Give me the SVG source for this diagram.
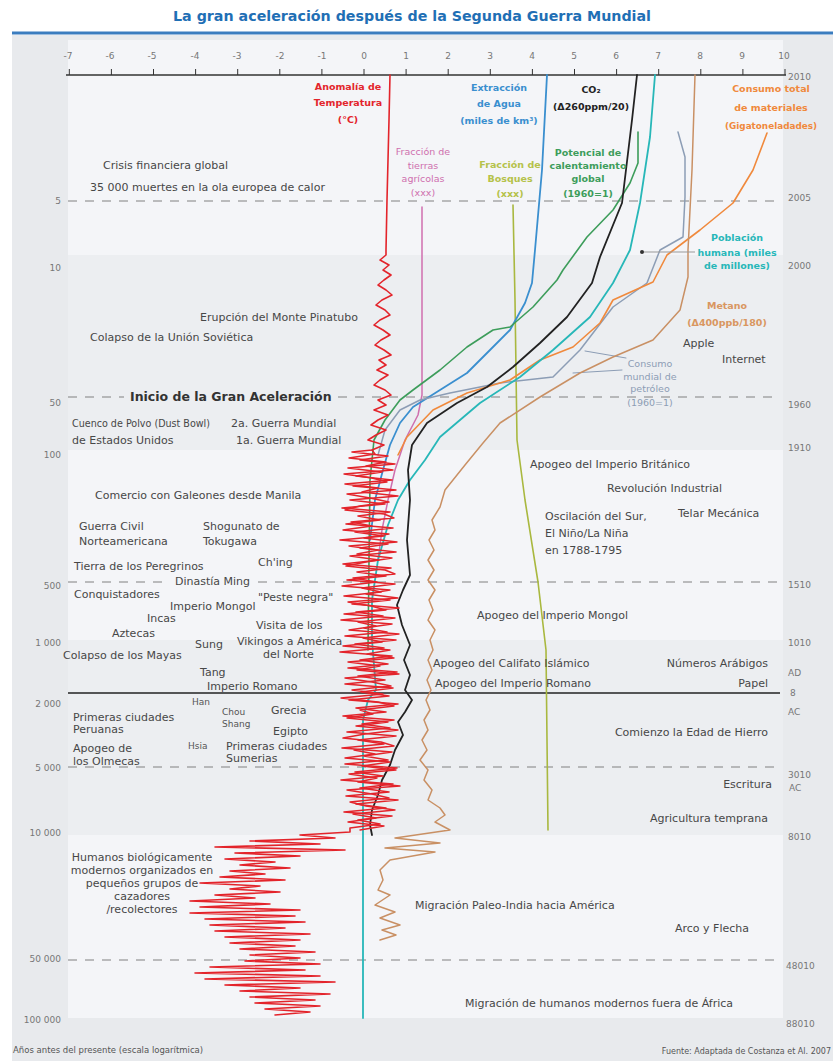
<svg xmlns="http://www.w3.org/2000/svg" width="833" height="1061" viewBox="0 0 833 1061">
<style>
.t{font-family:"DejaVu Sans","Liberation Sans",sans-serif;font-size:11px;fill:#474747}
.s{font-family:"DejaVu Sans","Liberation Sans",sans-serif;font-size:9px;fill:#555}
.ax{font-family:"DejaVu Sans","Liberation Sans",sans-serif;font-size:9px;fill:#777}
.sl{font-family:"DejaVu Sans","Liberation Sans",sans-serif;font-size:9.5px;font-weight:bold;text-anchor:middle}
.dash{stroke:#808080;stroke-width:1;stroke-dasharray:9 8;fill:none}
.c{fill:none;stroke-linejoin:round;stroke-linecap:round}
</style>
<rect width="833" height="1061" fill="#ffffff"/>
<g id="background">
<rect x="12" y="35" width="821" height="1026" fill="#e8eaed"/>
<rect x="68" y="40" width="715" height="215" fill="#f4f5f8"/>
<rect x="68" y="255" width="715" height="195" fill="#eceef1"/>
<rect x="68" y="450" width="715" height="190" fill="#f4f5f8"/>
<rect x="68" y="640" width="715" height="195" fill="#eceef1"/>
<rect x="68" y="835" width="715" height="183" fill="#f4f5f8"/>
<line x1="12" y1="33" x2="833" y2="33" stroke="#3b7dbf" stroke-width="3"/>
</g>
<text x="412" y="21" text-anchor="middle" font-family="DejaVu Sans, Liberation Sans, sans-serif" font-size="13.5" font-weight="bold" fill="#1f6fb5" textLength="478" lengthAdjust="spacingAndGlyphs">La gran aceleración después de la Segunda Guerra Mundial</text>
<g id="axes">
<line x1="66" y1="75" x2="786" y2="75" stroke="#333" stroke-width="1.3"/>
<g stroke="#333" stroke-width="1">
<line x1="69.3" y1="69" x2="69.3" y2="75"/><line x1="111.4" y1="69" x2="111.4" y2="75"/><line x1="153.5" y1="69" x2="153.5" y2="75"/><line x1="195.6" y1="69" x2="195.6" y2="75"/><line x1="237.7" y1="69" x2="237.7" y2="75"/><line x1="279.8" y1="69" x2="279.8" y2="75"/><line x1="321.9" y1="69" x2="321.9" y2="75"/><line x1="364" y1="69" x2="364" y2="75"/><line x1="406.1" y1="69" x2="406.1" y2="75"/><line x1="448.2" y1="69" x2="448.2" y2="75"/><line x1="490.3" y1="69" x2="490.3" y2="75"/><line x1="532.4" y1="69" x2="532.4" y2="75"/><line x1="574.5" y1="69" x2="574.5" y2="75"/><line x1="616.6" y1="69" x2="616.6" y2="75"/><line x1="658.7" y1="69" x2="658.7" y2="75"/><line x1="700.8" y1="69" x2="700.8" y2="75"/><line x1="742.9" y1="69" x2="742.9" y2="75"/><line x1="785" y1="69" x2="785" y2="75"/>
</g>
<g class="ax" text-anchor="middle">
<text x="68" y="59">-7</text><text x="110" y="59">-6</text><text x="152" y="59">-5</text><text x="195" y="59">-4</text><text x="237" y="59">-3</text><text x="280" y="59">-2</text><text x="322" y="59">-1</text><text x="364" y="59">0</text><text x="406" y="59">1</text><text x="448" y="59">2</text><text x="490" y="59">3</text><text x="532" y="59">4</text><text x="574" y="59">5</text><text x="616" y="59">6</text><text x="658" y="59">7</text><text x="700" y="59">8</text><text x="742" y="59">9</text><text x="784" y="59">10</text>
</g>
<g class="ax" text-anchor="end">
<text x="61" y="204">5</text><text x="61" y="271">10</text><text x="61" y="406">50</text><text x="61" y="458">100</text><text x="61" y="589">500</text><text x="61" y="646">1 000</text><text x="61" y="707">2 000</text><text x="61" y="771">5 000</text><text x="61" y="836">10 000</text><text x="61" y="962">50 000</text><text x="61" y="1023">100 000</text>
</g>
<g class="ax">
<text x="788" y="80">2010</text><text x="788" y="201">2005</text><text x="788" y="269">2000</text><text x="788" y="408">1960</text><text x="788" y="451">1910</text><text x="788" y="588">1510</text><text x="788" y="646">1010</text><text x="788" y="676">AD</text><text x="790" y="696">8</text><text x="788" y="715">AC</text><text x="788" y="778">3010</text><text x="789" y="791">AC</text><text x="788" y="840">8010</text><text x="786" y="969">48010</text><text x="786" y="1027">88010</text>
</g>
</g>
<g id="gridlines">
<line class="dash" x1="68" y1="201" x2="780" y2="201"/>
<line class="dash" x1="68" y1="397" x2="124" y2="397"/>
<line class="dash" x1="338" y1="397" x2="780" y2="397"/>
<line class="dash" x1="68" y1="582" x2="170" y2="582"/>
<line class="dash" x1="258" y1="582" x2="780" y2="582"/>
<line class="dash" x1="68" y1="767" x2="780" y2="767"/>
<line class="dash" x1="68" y1="960" x2="780" y2="960"/>
<line x1="68" y1="693" x2="780" y2="693" stroke="#222" stroke-width="1.3"/>
</g>
<g id="series">
<g id="forest"><path class="c" stroke="#a9b83f" stroke-width="1.6" d="M513,205 L515,300 L517,440 L525,500 L538,582 L546,650 L548,830"/></g>
<g id="agri"><path class="c" stroke="#cf6fae" stroke-width="1.5" d="M422,207 L422,395 L418,415 L405,440 L395,470 L388,500 L382,530 L378,560"/></g>
<g id="water"><path class="c" stroke="#3a8fcf" stroke-width="1.8" d="M547,75 L542,170 L535,250 L532,283 L525,303 L510,330 L490,350 L467,373 L440,390 L413,407 L400,423 L390,445 L383,470 L375,500 L370,540"/></g>
<g id="gwp"><path class="c" stroke="#3d9d5b" stroke-width="1.6" d="M638,132 L638,163 L630,183 L613,210 L587,237 L563,270 L557,280 L533,307 L510,327 L493,330 L467,347 L440,370 L413,390 L400,400 L385,420 L374,440 L370,480 L369,560 L368,650"/></g>
<g id="oil"><path class="c" stroke="#8c9db5" stroke-width="1.5" d="M678,132 L685,157 L685,197 L683,237 L660,250 L647,283 L613,307 L580,350 L553,377 L500,383 L450,393 L420,400 L400,410 L385,430 L378,455"/>
<path class="c" stroke="#8c9db5" stroke-width="1" d="M626,358 L585,351 M622,370 L573,373"/></g>
<g id="materials"><path class="c" stroke="#f0893c" stroke-width="1.6" d="M767,133 L753,170 L733,203 L700,230 L667,255 L653,282 L613,300 L600,323 L573,347 L540,360 L510,380 L467,393 L433,410 L407,437 L398,455"/></g>
<g id="methane"><path class="c" stroke="#c99064" stroke-width="1.5" d="M695,75 L692,170 L688,250 L688,277 L680,310 L653,340 L613,357 L580,373 L540,397 L500,423 L483,443 L465,465 L445,490 L440,507 L432,520 L435,530 L429,540 L434,550 L428,560 L434,570 L428,580 L435,590 L429,600 L433,610 L428,620 L435,630 L430,640 L433,650 L428,660 L432,670 L427,680 L431,690 L426,700 L430,710 L424,720 L428,730 L422,740 L427,750 L420,760 L428,770 L424,780 L432,790 L428,800 L440,808 L445,815 L435,822 L450,830 L395,838 L440,843 L385,848 L435,852 L390,860 L380,870 L383,880 L378,890 L390,895 L375,905 L395,912 L380,918 L400,925 L382,930 L396,935 L380,940"/></g>
<g id="population"><path class="c" stroke="#27b7b8" stroke-width="1.8" d="M655,75 L650,137 L640,203 L630,250 L613,283 L590,317 L553,350 L520,377 L480,403 L440,437 L425,460 L410,480 L398,500 L388,525 L378,560 L372,600 L372,640 L376,690 L368,700 L363,720 L363,1018"/>
<line x1="642" y1="252" x2="695" y2="252" stroke="#999" stroke-width="1"/><circle cx="642" cy="252" r="2" fill="#333"/></g>
<g id="co2"><path class="c" stroke="#222" stroke-width="1.8" d="M637,75 L632,120 L622,203 L600,257 L592,283 L567,317 L540,343 L513,367 L487,387 L457,403 L427,423 L412,445 L408,470 L410,500 L407,540 L410,575 L403,590 L397,605 L402,625 L410,645 L404,660 L410,675 L405,690 L412,700 L405,712 L398,722 L403,735 L395,750 L390,765 L382,780 L378,795 L372,810 L370,825 L372,835"/></g>
<g id="temperature">
<path class="c" stroke="#e3242b" stroke-width="1.6" d="M390,75 L389,120 L387,200 L386,250 L386,255 L380,260 L389,265 L383,270 L391,275 L384,280 L378,285 L386,290 L392,295 L382,300 L376,305 L385,310 L390,315 L380,320 L374,325 L383,330 L390,335 L381,340 L375,345 L384,350 L391,355 L379,360 L386,365 L377,370 L388,375 L380,380 L374,385 L385,390 L391,395 L378,400 L386,405 L374,410 L388,415 L378,420 L371,425 L386,430 L376,435 L368,440 L384,445 L372,450 L352,452 L388,456 L360,460 L395,464 L348,468 L382,472 L356,476 L392,480 L345,484 L378,488 L362,492 L398,496 L350,500 L385,504 L342,508 L390,512 L358,516 L380,520 L346,524 L393,528 L355,532 L384,536 L340,540 L388,544 L360,548 L396,552 L350,556 L379,560 L343,564 L391,568 L357,572 L386,576 L347,580 L395,584 L362,588 L381,592 L344,596 L390,600 L352,604 L399,608 L356,612 L383,616 L341,620 L392,624 L364,628 L387,632 L345,636 L396,640 L355,644 L384,648 L340,652 L392,656 L360,660 L388,664 L348,668 L397,672 L358,676 L385,680 L345,684 L393,688 L361,692 L389,696 L349,700 L398,704 L356,708 L386,712 L343,716 L394,720 L362,724 L390,728 L347,732 L396,736 L358,740 L384,744 L342,748 L392,752 L364,756 L388,760 L345,764 L397,768 L355,772 L383,776 L341,780 L393,784 L360,788 L389,792 L346,796 L398,800 L356,804 L386,808 L344,812 L392,816 L358,820 L380,824 L350,828 L350,832 L300,835 L335,838 L250,841 L320,844 L215,847 L345,850 L235,853 L300,856 L225,859 L275,862 L240,865 L290,868 L230,871 L265,874 L220,877 L285,880 L200,883 L260,886 L230,889 L280,892 L215,895 L255,898 L190,901 L270,904 L200,907 L300,910 L190,913 L295,916 L205,919 L305,922 L210,925 L285,928 L215,931 L310,934 L225,937 L300,940 L230,943 L295,946 L240,949 L315,952 L250,955 L300,958 L245,961 L320,964 L210,967 L305,970 L195,973 L320,976 L205,979 L335,982 L225,985 L300,988 L240,991 L330,994 L250,997 L315,1000 L255,1003 L320,1006 L265,1009 L310,1012 L275,1015"/>
<path class="c" stroke="#e3242b" stroke-width="1.4" d="M372,450 L375,454 L349,458 L386,462 L366,466 L393,470 L344,474 L372,478 L387,482 L353,486 L396,490 L347,494 L370,498 L389,502 L360,506 L345,510 L384,514 L394,518 L351,522 L372,526 L343,530 L389,534 L364,538 L397,542 L349,546 L378,550 L357,554 L392,558 L366,562 L346,566 L385,570 L395,574 L353,578 L377,582 L342,586 L390,590 L366,594 L398,598 L348,602 L371,606 L386,610 L344,614 L395,618 L358,622 L376,626 L349,630 L399,634 L363,638 L382,642 L343,646 L390,650 L367,654 L394,658 L348,662 L380,666 L357,670 L399,674 L345,678 L372,682 L391,686 L352,690 L383,694 L341,698 L378,702 L394,706 L360,710 L373,714 L347,718 L388,722 L356,726 L398,730 L365,734 L343,738 L381,742 L394,746 L354,750 L375,754 L345,758 L390,762 L362,766 L396,770 L349,774 L377,778 L358,782 L400,786 L347,790 L372,794 L389,798 L350,802 L366,806 L395,810 L353,814 L376,818 L348,822 L384,826 L360,830"/>
</g>
</g>
<g id="series-labels">
<g class="sl" fill="#e3242b"><text x="348" y="90">Anomalía de</text><text x="348" y="106">Temperatura</text><text x="348" y="123">(°C)</text></g>
<g class="sl" fill="#3a8fcf"><text x="499" y="91">Extracción</text><text x="499" y="107">de Agua</text><text x="499" y="124">(miles de km³)</text></g>
<g class="sl" fill="#222"><text x="591" y="93">CO₂</text><text x="591" y="110">(Δ260ppm/20)</text></g>
<g class="sl" fill="#f0893c"><text x="771" y="92">Consumo total</text><text x="771" y="111">de materiales</text><text x="771" y="129" textLength="92" lengthAdjust="spacingAndGlyphs">(Gigatoneladades)</text></g>
<g class="sl" fill="#cf6fae" style="font-weight:normal"><text x="423" y="155">Fracción de</text><text x="423" y="169">tierras</text><text x="423" y="182">agrícolas</text><text x="423" y="196">(xxx)</text></g>
<g class="sl" fill="#b5c24a"><text x="510" y="168">Fracción de</text><text x="510" y="182">Bosques</text><text x="510" y="197">(xxx)</text></g>
<g class="sl" fill="#3d9d5b"><text x="588" y="156">Potencial de</text><text x="588" y="169">calentamiento</text><text x="588" y="182">global</text><text x="588" y="197">(1960=1)</text></g>
<g class="sl" fill="#27b7b8"><text x="737" y="241">Población</text><text x="737" y="256">humana (miles</text><text x="737" y="269">de millones)</text></g>
<g class="sl" fill="#d99660"><text x="727" y="309">Metano</text><text x="727" y="326">(Δ400ppb/180)</text></g>
<g class="sl" fill="#8c9db5" style="font-weight:normal"><text x="650" y="367">Consumo</text><text x="650" y="380">mundial de</text><text x="650" y="392">petróleo</text><text x="650" y="406">(1960=1)</text></g>
</g>
<g id="events-left" class="t">
<text x="103" y="169">Crisis financiera global</text>
<text x="90" y="191">35 000 muertes en la ola europea de calor</text>
<text x="358" y="321" text-anchor="end">Erupción del Monte Pinatubo</text>
<text x="90" y="341">Colapso de la Unión Soviética</text>
<text x="130" y="401" font-size="12.5" font-weight="bold" fill="#333">Inicio de la Gran Aceleración</text>
<text x="72" y="427" textLength="138" lengthAdjust="spacingAndGlyphs">Cuenco de Polvo (Dust Bowl)</text>
<text x="72" y="444">de Estados Unidos</text>
<text x="231" y="427">2a. Guerra Mundial</text>
<text x="236" y="444">1a. Guerra Mundial</text>
<text x="95" y="499">Comercio con Galeones desde Manila</text>
<text x="79" y="530">Guerra Civil</text>
<text x="79" y="545">Norteamericana</text>
<text x="203" y="530">Shogunato de</text>
<text x="203" y="545">Tokugawa</text>
<text x="258" y="566">Ch'ing</text>
<text x="74" y="570">Tierra de los Peregrinos</text>
<text x="175" y="585">Dinastía Ming</text>
<text x="74" y="598">Conquistadores</text>
<text x="258" y="601">"Peste negra"</text>
<text x="170" y="610">Imperio Mongol</text>
<text x="147" y="622">Incas</text>
<text x="256" y="629">Visita de los</text>
<text x="112" y="637">Aztecas</text>
<text x="237" y="645">Vikingos a América</text>
<text x="195" y="648">Sung</text>
<text x="63" y="659">Colapso de los Mayas</text>
<text x="263" y="658">del Norte</text>
<text x="200" y="676">Tang</text>
<text x="207" y="690">Imperio Romano</text>
<text x="192" y="705" class="s">Han</text>
<text x="222" y="715" class="s">Chou</text>
<text x="222" y="727" class="s">Shang</text>
<text x="271" y="714">Grecia</text>
<text x="73" y="721">Primeras ciudades</text>
<text x="73" y="733">Peruanas</text>
<text x="273" y="735">Egipto</text>
<text x="73" y="752">Apogeo de</text>
<text x="73" y="765">los Olmecas</text>
<text x="188" y="749" class="s">Hsia</text>
<text x="226" y="750">Primeras ciudades</text>
<text x="226" y="762">Sumerias</text>
<g text-anchor="middle"><text x="142" y="861">Humanos biológicamente</text><text x="142" y="874">modernos organizados en</text><text x="142" y="887">pequeños grupos de</text><text x="142" y="900">cazadores</text><text x="142" y="913">/recolectores</text></g>
</g>
<g id="events-right" class="t">
<text x="683" y="347">Apple</text>
<text x="722" y="363">Internet</text>
<text x="530" y="468">Apogeo del Imperio Británico</text>
<text x="607" y="492">Revolución Industrial</text>
<text x="545" y="520">Oscilación del Sur,</text>
<text x="545" y="537">El Niño/La Niña</text>
<text x="545" y="554">en 1788-1795</text>
<text x="678" y="517">Telar Mecánica</text>
<text x="477" y="619">Apogeo del Imperio Mongol</text>
<text x="433" y="667">Apogeo del Califato Islámico</text>
<text x="768" y="667" text-anchor="end">Números Arábigos</text>
<text x="435" y="687">Apogeo del Imperio Romano</text>
<text x="768" y="687" text-anchor="end">Papel</text>
<text x="768" y="736" text-anchor="end">Comienzo la Edad de Hierro</text>
<text x="772" y="788" text-anchor="end">Escritura</text>
<text x="768" y="822" text-anchor="end">Agricultura temprana</text>
<text x="415" y="909">Migración Paleo-India hacia América</text>
<text x="749" y="932" text-anchor="end">Arco y Flecha</text>
<text x="465" y="1007">Migración de humanos modernos fuera de África</text>
</g>
<g id="footer">
<text x="13" y="1053" font-family="DejaVu Sans, Liberation Sans, sans-serif" font-size="8.5" fill="#555">Años antes del presente (escala logarítmica)</text>
<text x="831" y="1054" text-anchor="end" font-family="DejaVu Sans, Liberation Sans, sans-serif" font-size="8" fill="#555">Fuente: Adaptada de Costanza et Al. 2007</text>
</g>
</svg>
